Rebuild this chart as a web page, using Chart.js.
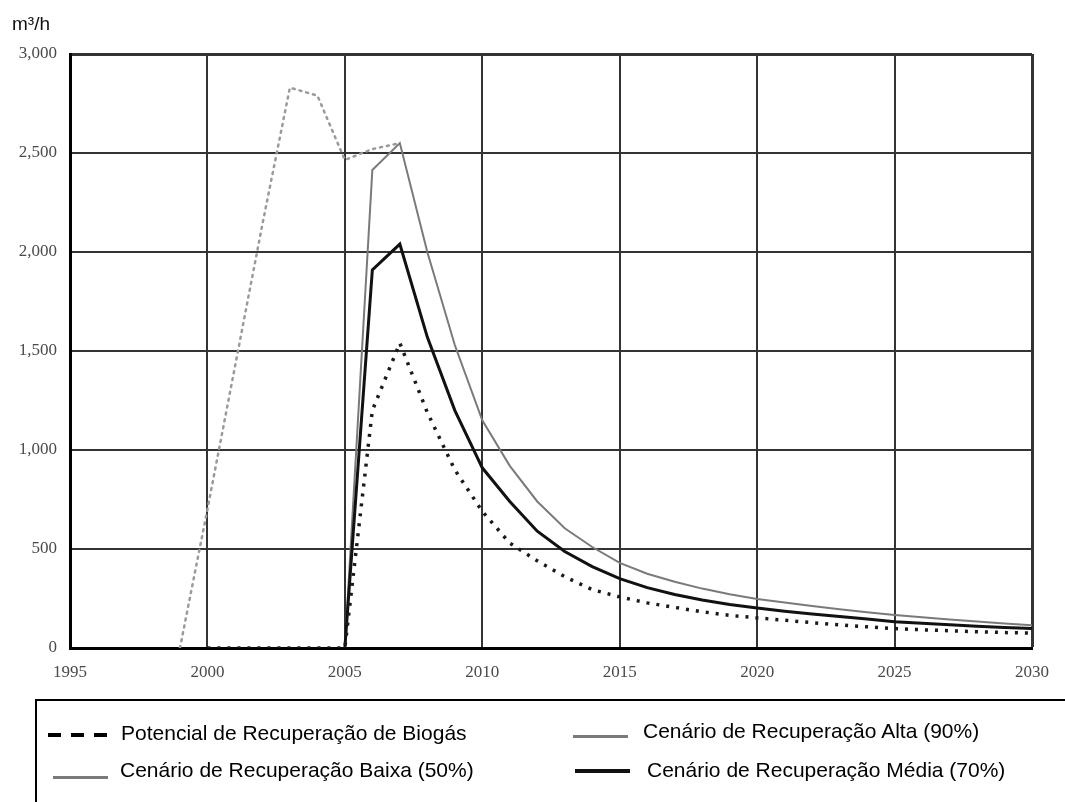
<!DOCTYPE html>
<html>
<head>
<meta charset="utf-8">
<script src="https://cdn.jsdelivr.net/npm/chart.js@4.4.1/dist/chart.umd.min.js"></script>
<style>
    body { margin: 0; background: #fff; width: 1065px; height: 802px; position: relative; overflow: hidden; }
    #wrap { position: absolute; left: 0; top: 0; width: 1065px; height: 700px; }
    #unit { position: absolute; left: 12px; top: 13px; font: 19px "Liberation Sans", Arial, sans-serif; color: #111; }
    #legend { position: absolute; left: 35px; top: 699px; width: 1040px; height: 110px;
              border-left: 2px solid #000; border-top: 2px solid #000; }
    .item { position: absolute; font: 21px "Liberation Sans", Arial, sans-serif; color: #000; white-space: nowrap; }
    .swatch { position: absolute; }
</style>
</head>
<body>
<div id="wrap"><canvas id="chart" width="1065" height="700"></canvas></div>
<div id="unit">m³/h</div>
<div id="legend"></div>

<script>
// anos do eixo x
const years = [1995, 1996, 1997, 1998, 1999, 2000, 2001, 2002, 2003, 2004,
               2005, 2006, 2007, 2008, 2009, 2010, 2011, 2012, 2013, 2014,
               2015, 2016, 2017, 2018, 2019, 2020, 2021, 2022, 2023, 2024,
               2025, 2026, 2027, 2028, 2029, 2030];

// m³/h
const potencial = [null, null, null, null, null, 0, 0, 0, 0, 0,
                   0, 1200, 1540, 1190, 900, 690, 530, 440, 360, 295,
                   258, 228, 205, 183, 165, 152, 140, 128, 117, 107,
                   98, 92, 87, 82, 78, 75];

const baixa = [null, null, null, null, 0, 700, 1420, 2140, 2830, 2790,
               2465, 2520, 2550, null, null, null, null, null, null, null,
               null, null, null, null, null, null, null, null, null, null,
               null, null, null, null, null, null];

const alta = [null, null, null, null, null, null, null, null, null, null,
              0, 2414, 2550, 2000, 1530, 1150, 920, 740, 605, 510,
              430, 375, 335, 300, 272, 248, 230, 212, 196, 181,
              167, 155, 144, 134, 124, 115];

const media = [null, null, null, null, null, null, null, null, null, null,
               0, 1910, 2040, 1570, 1200, 910, 740, 590, 487, 411,
               350, 305, 270, 242, 220, 202, 186, 172, 159, 146,
               133, 125, 117, 110, 104, 98];

const yTicks = [0, 500, 1000, 1500, 2000, 2500, 3000];
const xTicks = [1995, 2000, 2005, 2010, 2015, 2020, 2025, 2030];

const names = [
    "Potencial de Recuperação de Biogás",
    "Cenário de Recuperação Alta (90%)",
    "Cenário de Recuperação Baixa (50%)",
    "Cenário de Recuperação Média (70%)"
];

function toPoints(values) {
    return years.map((y, i) => ({ x: y, y: values[i] }));
}

const tickFont = { family: "'Liberation Serif', 'Times New Roman', serif", size: 17 };

new Chart(document.getElementById("chart"), {
    type: "line",
    data: {
        datasets: [
            {
                label: names[2],
                data: toPoints(baixa),
                borderColor: "#9a9a9a",
                borderWidth: 2.5,
                borderDash: [2, 5],
                borderCapStyle: "round",
                order: 4
            },
            {
                label: names[1],
                data: toPoints(alta),
                borderColor: "#7a7a7a",
                borderWidth: 2,
                order: 3
            },
            {
                label: names[3],
                data: toPoints(media),
                borderColor: "#111",
                borderWidth: 3,
                order: 2
            },
            {
                label: names[0],
                data: toPoints(potencial),
                borderColor: "#1a1a1a",
                borderWidth: 3.5,
                borderDash: [3, 7],
                order: 1
            }
        ]
    },
    options: {
        responsive: false,
        animation: false,
        spanGaps: false,
        elements: { point: { radius: 0 }, line: { tension: 0 } },
        layout: { padding: { left: 0, top: 54, right: 33, bottom: 0 } },
        plugins: { legend: { display: false }, tooltip: { enabled: false } },
        scales: {
            x: {
                type: "linear",
                min: 1995,
                max: 2030,
                afterBuildTicks: s => { s.ticks = xTicks.map(v => ({ value: v })); },
                afterFit: s => { s.height = 52; },
                ticks: {
                    font: tickFont,
                    color: "#4a4a4a",
                    padding: 14,
                    maxRotation: 0,
                    callback: v => String(v)
                },
                grid: {
                    drawTicks: false,
                    color: "#333",
                    lineWidth: ctx => (ctx.tick && ctx.tick.value === 2030) ? 3 : 2
                },
                border: { color: "#000", width: 3 }
            },
            y: {
                min: 0,
                max: 3000,
                afterBuildTicks: s => { s.ticks = yTicks.map(v => ({ value: v })); },
                afterFit: s => { s.width = 70; },
                ticks: {
                    font: tickFont,
                    color: "#4a4a4a",
                    padding: 13,
                    callback: v => v.toLocaleString("en-US")
                },
                grid: {
                    drawTicks: false,
                    color: "#333",
                    lineWidth: ctx => (ctx.tick && ctx.tick.value === 3000) ? 3 : 2
                },
                border: { color: "#000", width: 3 }
            }
        }
    }
});

// legenda em caixa, duas colunas
const legendItems = [
    { name: names[0], text: [84, 20], line: [11, 32, 59], style: "background: repeating-linear-gradient(to right, #000 0 13px, transparent 13px 23px); height: 4px;" },
    { name: names[1], text: [606, 18], line: [536, 34, 55], style: "background: #7a7a7a; height: 3px;" },
    { name: names[2], text: [83, 57], line: [16, 75, 55], style: "background: #7a7a7a; height: 3px;" },
    { name: names[3], text: [610, 57], line: [538, 68, 55], style: "background: #111; height: 4px;" }
];

const legend = document.getElementById("legend");
legendItems.forEach(it => {
    const sw = document.createElement("div");
    sw.className = "swatch";
    sw.style.cssText = it.style + `left:${it.line[0]}px; top:${it.line[1]}px; width:${it.line[2]}px;`;
    legend.appendChild(sw);

    const t = document.createElement("div");
    t.className = "item";
    t.style.left = it.text[0] + "px";
    t.style.top = it.text[1] + "px";
    t.textContent = it.name;
    legend.appendChild(t);
});
</script>
</body>
</html>
